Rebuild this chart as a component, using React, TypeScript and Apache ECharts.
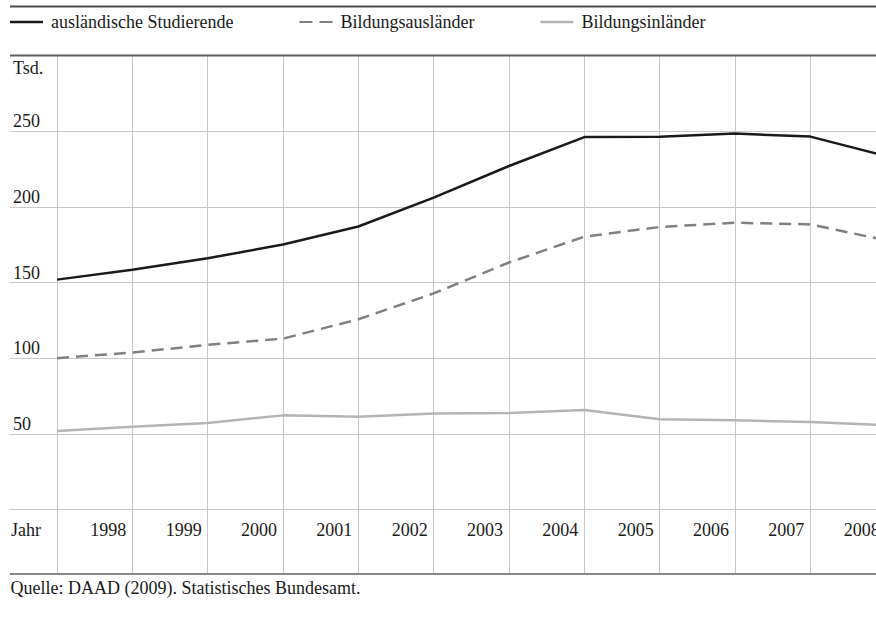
import React, { useEffect, useRef } from "react";
import * as echarts from "echarts";

const years = [1997, 1998, 1999, 2000, 2001, 2002, 2003, 2004, 2005, 2006, 2007, 2008];
const auslaendischeStudierende = [151.9, 158.4, 166.0, 175.1, 187.0, 206.1, 227.0, 246.1, 246.3, 248.4, 246.4, 233.6];
const bildungsauslaender = [100.0, 103.7, 108.8, 112.9, 125.7, 142.8, 163.2, 180.3, 186.7, 189.5, 188.4, 177.9];
const bildungsinlaender = [51.9, 54.7, 57.2, 62.2, 61.3, 63.4, 63.8, 65.8, 59.7, 58.9, 57.9, 55.7];
const seriesNames = ["ausländische Studierende", "Bildungsausländer", "Bildungsinländer"];
const yUnitLabel = "Tsd.";
const xUnitLabel = "Jahr";
const sourceText = "Quelle: DAAD (2009). Statistisches Bundesamt.";

const FONT = "Liberation Serif";
const GRID_COLOR = "#c8c8c8";
const CHART_W = 900;
const CHART_H = 618;

export default function App() {
  const ref = useRef<HTMLDivElement>(null);
  useEffect(() => {
    if (!ref.current) return;
    const chart = echarts.init(ref.current, undefined, { renderer: "svg" });
    const pairs = (vals: number[]) => years.map((y, i) => [y, vals[i]]);
    chart.setOption({
      animation: false,
      textStyle: { fontFamily: FONT },
      legend: {
        left: 10,
        top: 13,
        padding: 0,
        itemWidth: 33,
        itemHeight: 2.5,
        itemGap: 66,
        selectedMode: false,
        textStyle: { fontFamily: FONT, fontSize: 18, color: "#1a1a1a", padding: [6, 0, 0, 3] },
        data: [
          { name: seriesNames[0], icon: "rect" },
          { name: seriesNames[1], icon: "path://M0 0H13V2H0Z M20 0H33V2H20Z" },
          { name: seriesNames[2], icon: "rect" },
        ],
      },
      grid: { left: 57, right: CHART_W - 885.7, top: 55.5, bottom: CHART_H - 509.5 },
      xAxis: {
        type: "value",
        min: 1997,
        max: 2008,
        interval: 1,
        axisLine: { show: true, lineStyle: { color: GRID_COLOR, width: 1 } },
        axisTick: { show: true, inside: false, length: 64, lineStyle: { color: GRID_COLOR, width: 1 } },
        splitLine: { show: true, lineStyle: { color: GRID_COLOR, width: 1 } },
        axisLabel: {
          showMinLabel: true,
          showMaxLabel: true,
          margin: 20,
          align: "right",
          verticalAlign: "middle",
          padding: [0, 6, 0, 0],
          fontFamily: FONT,
          fontSize: 18,
          color: "#1a1a1a",
          formatter: (v: number) => (v === years[0] ? "" : String(v)),
        },
      },
      yAxis: {
        type: "value",
        min: 0,
        max: 300,
        interval: 50,
        axisLine: { show: false },
        axisTick: { show: true, inside: false, length: 47, lineStyle: { color: GRID_COLOR, width: 1 } },
        splitLine: { show: true, lineStyle: { color: GRID_COLOR, width: 1 } },
        axisLabel: {
          margin: 44,
          align: "left",
          verticalAlign: "bottom",
          lineHeight: 20,
          fontFamily: FONT,
          fontSize: 18,
          color: "#1a1a1a",
          formatter: (v: number) => (v === 0 || v === 300 ? "" : String(v)),
        },
      },
      series: [
        {
          name: seriesNames[0],
          type: "line",
          data: pairs(auslaendischeStudierende),
          symbol: "none",
          lineStyle: { color: "#1a1a1a", width: 2.5 },
          itemStyle: { color: "#1a1a1a" },
        },
        {
          name: seriesNames[1],
          type: "line",
          data: pairs(bildungsauslaender),
          symbol: "none",
          lineStyle: { color: "#808080", width: 2.5, type: [12, 7] },
          itemStyle: { color: "#808080" },
        },
        {
          name: seriesNames[2],
          type: "line",
          data: pairs(bildungsinlaender),
          symbol: "none",
          lineStyle: { color: "#b4b4b4", width: 2.5 },
          itemStyle: { color: "#b4b4b4" },
        },
      ],
      graphic: [
        { type: "line", z: 10, shape: { x1: 10, y1: 6.5, x2: CHART_W, y2: 6.5 }, style: { stroke: "#4d4d4d", lineWidth: 2 } },
        { type: "line", z: 10, shape: { x1: 10, y1: 55.5, x2: CHART_W, y2: 55.5 }, style: { stroke: "#5f5f5f", lineWidth: 1.8 } },
        { type: "line", z: 10, shape: { x1: 10, y1: 574, x2: CHART_W, y2: 574 }, style: { stroke: "#888888", lineWidth: 2 } },
        { type: "text", z: 10, x: 13, y: 68.3, style: { text: yUnitLabel, fontFamily: FONT, fontSize: 18, fill: "#1a1a1a", align: "left", verticalAlign: "middle" } },
        { type: "text", z: 10, x: 11, y: 529.5, style: { text: xUnitLabel, fontFamily: FONT, fontSize: 18, fill: "#1a1a1a", align: "left", verticalAlign: "middle" } },
        { type: "text", z: 10, x: 10.5, y: 587.5, style: { text: sourceText, fontFamily: FONT, fontSize: 18, fill: "#1a1a1a", align: "left", verticalAlign: "middle" } },
      ],
    });
    return () => chart.dispose();
  }, []);
  return (
    <div style={{ position: "fixed", left: 0, top: 0, width: 876, height: 618, overflow: "hidden", background: "#fff" }}>
      <div ref={ref} style={{ width: CHART_W, height: CHART_H }} />
    </div>
  );
}
